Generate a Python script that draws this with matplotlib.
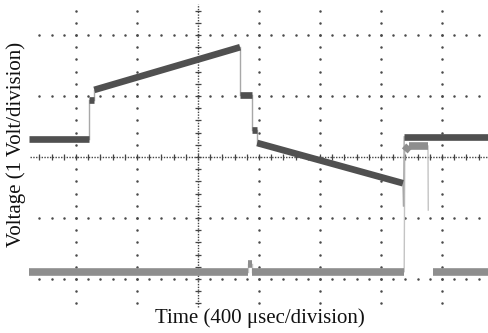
import numpy as np
import matplotlib
matplotlib.use("Agg")
import matplotlib.pyplot as plt

# Oscilloscope capture, values in divisions (x: 400 usec/div, y: 1 V/div)
# NaN marks a break in the trace
ch1_time = [-2.77, -1.79, -1.79, -1.70, -1.70, 0.69, 0.69, 0.885, 0.885, 0.97, 0.97, 3.36, 3.37, 3.38, 4.75]
ch1_volt = [0.30, 0.30, 0.93, 0.93, 1.10, 1.80, 1.02, 1.02, 0.44, 0.44, 0.23, -0.43, -0.80, 0.33, 0.33]

ch2_time = [-2.77, 0.82, 0.82, 0.88, 0.88, 3.38, 3.39, 3.46, 3.77, 3.775, np.nan, 3.85, 4.75]
ch2_volt = [-1.88, -1.88, -1.75, -1.75, -1.88, -1.88, 0.10, 0.18, 0.18, -0.87, np.nan, -1.88, -1.88]

x_label = "Time (400 \u03bcsec/division)"
y_label = "Voltage (1 Volt/division)"

W, H = 488, 333
fig = plt.figure(figsize=(W / 100, H / 100), dpi=100)
ax = fig.add_axes([0, 0, 1, 1])
x0, y0, sp = 198, 157, 61.0
ax.set_xlim(-x0 / sp, (W - x0) / sp)
ax.set_ylim((y0 - H) / sp, y0 / sp)
ax.axis("off")

dot_c = "#4a4a4a"
# grid dots
minor_y = np.round(np.arange(-2.4, 2.41, 0.2), 2)
minor_x = np.round(np.arange(-2.6, 4.61, 0.2), 2)
for gx in [-2, -1, 1, 2, 3, 4]:
    ax.plot(np.full_like(minor_y, gx), minor_y, ls="none", marker="o", ms=1.8, color=dot_c, mec="none")
for gy in [-2, -1, 1, 2]:
    ax.plot(minor_x, np.full_like(minor_x, gy), ls="none", marker="o", ms=1.8, color=dot_c, mec="none")

# center axes with ticks
ax.plot([-2.75, 4.75], [0, 0], color="#444444", lw=1.0, ls=(0, (1, 1.0)))
ax.plot(minor_x, np.zeros_like(minor_x), ls="none", marker="|", ms=5, mew=0.9, color="#444444")
ax.plot([0, 0], [-2.46, 2.5], color="#444444", lw=1.0, ls=(0, (1, 1.0)))
ax.plot(np.zeros_like(minor_y), minor_y, ls="none", marker="_", ms=5, mew=0.9, color="#444444")

def draw_trace(t, v, thick_c, thin_c, lw):
    for i in range(len(t) - 1):
        ta, tb, va, vb = t[i], t[i + 1], v[i], v[i + 1]
        if np.isnan(ta) or np.isnan(tb):
            continue
        if abs(tb - ta) > 0.03:
            ax.plot([ta, tb], [va, vb], color=thick_c, lw=lw, solid_capstyle="butt", zorder=3)
        else:
            ax.plot([ta, tb], [va, vb], color=thin_c, lw=1.0, zorder=2)

draw_trace(ch2_time, ch2_volt, "#8e8e8e", "#c4c4c4", 5.5)
draw_trace(ch1_time, ch1_volt, "#505050", "#a8a8a8", 4.8)

fig.text(260 / W, 1 - 318 / H, x_label, ha="center", va="center",
         family="Liberation Serif", fontsize=15, color="#111111")
fig.text(16 / W, 1 - 144 / H, y_label, ha="center", va="center", rotation=90,
         family="Liberation Serif", fontsize=15, color="#111111")

fig.savefig("out.png", dpi=100, facecolor="white")
